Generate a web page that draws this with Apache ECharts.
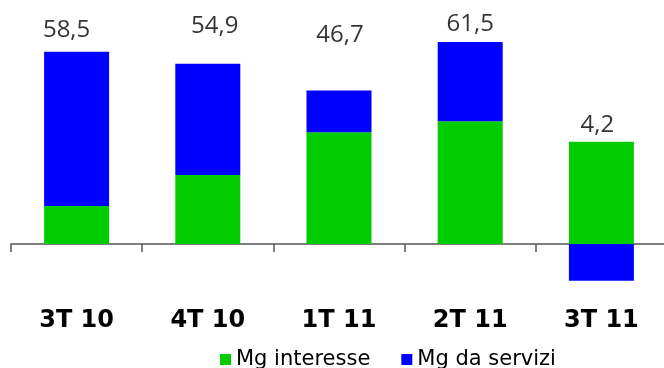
<!DOCTYPE html>
<html>
<head>
<meta charset="utf-8">
<script src="https://cdn.jsdelivr.net/npm/echarts@6/dist/echarts.min.js"></script>
<style>
  html, body { margin: 0; padding: 0; background: #fff; }
  #chart { width: 664px; height: 368px; }
</style>
</head>
<body>
<div id="chart"></div>
<script>
// Quarterly margins (Mg interesse + Mg da servizi), stacked
const categories = ['3T 10', '4T 10', '1T 11', '2T 11', '3T 11'];
const interesse = [11.6, 21.0, 34.0, 37.4, 31.1];
const servizi = [46.9, 33.9, 12.7, 24.1, -11.2];
const totals = [58.5, 54.9, 46.7, 61.5, 4.2];

// pixel nudges for the total labels [dx, dy]
const totalLabelShift = [[-10, -5], [7, -21], [1, -39], [0, -1], [-4, 0]];

const stackTop = interesse.map((g, i) => g + Math.max(servizi[i], 0));

const chart = echarts.init(document.getElementById('chart'), null, { renderer: 'canvas' });

chart.setOption({
  animation: false,
  backgroundColor: '#ffffff',
  grid: {
    left: 11, width: 656, top: 30.5, height: 262.8,
    containLabel: false, outerBoundsMode: 'none'
  },
  legend: {
    data: ['Mg interesse', 'Mg da servizi'],
    left: 220,
    top: 349,
    padding: 0,
    itemWidth: 11,
    itemHeight: 11,
    itemGap: 31,
    icon: 'rect',
    textStyle: { fontFamily: 'DejaVu Sans', fontSize: 21, color: '#000' }
  },
  xAxis: {
    type: 'category',
    data: categories,
    boundaryGap: true,
    axisLine: { show: true, onZero: true, lineStyle: { color: '#555', width: 1.5 } },
    axisTick: { show: true, length: 8, alignWithLabel: false, lineStyle: { color: '#555', width: 1.5 } },
    axisLabel: {
      margin: 15,
      fontFamily: 'DejaVu Sans',
      fontWeight: 'bold',
      fontSize: 24,
      color: '#000'
    }
  },
  yAxis: {
    type: 'value',
    min: -15,
    max: 65,
    show: false,
    splitLine: { show: false }
  },
  series: [
    {
      name: 'Mg interesse',
      type: 'bar',
      stack: 'mg',
      barWidth: 65,
      data: interesse,
      itemStyle: { color: '#00CC00' }
    },
    {
      name: 'Mg da servizi',
      type: 'bar',
      stack: 'mg',
      barWidth: 65,
      data: servizi,
      itemStyle: { color: '#0000FF' }
    },
    {
      name: 'Totale',
      type: 'scatter',
      silent: true,
      symbolSize: 1,
      itemStyle: { color: 'rgba(0,0,0,0)' },
      z: 10,
      data: stackTop.map((v, i) => ({
        value: [i, v],
        label: { offset: totalLabelShift[i] }
      })),
      label: {
        show: true,
        position: 'top',
        distance: 4,
        fontFamily: 'Open Sans',
        fontSize: 24,
        color: '#000',
        formatter: p => totals[p.dataIndex].toFixed(1).replace('.', ',')
      }
    }
  ]
});
</script>
</body>
</html>
